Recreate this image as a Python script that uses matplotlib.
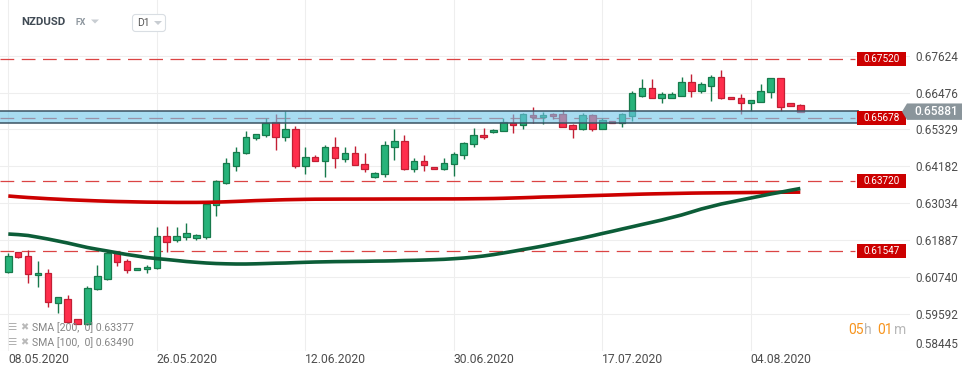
import matplotlib
matplotlib.use('Agg')
import matplotlib.pyplot as plt
import matplotlib.transforms as mtransforms
from matplotlib.patches import Rectangle, Polygon, FancyBboxPatch
import numpy as np
import pandas as pd

plt.rcParams['font.family'] = ['Roboto', 'DejaVu Sans']

# ---------------- data ----------------
symbol = 'NZDUSD'
start_date = '2020-05-08'
end_date = '2020-08-10'

opens = [
    0.60881, 0.61504, 0.61389, 0.60788, 0.60850, 0.59917, 0.60060, 0.59428, 0.59272, 0.60352,
    0.60673, 0.61473, 0.61224, 0.60944, 0.60984, 0.61006, 0.62011, 0.61887, 0.61971, 0.61949,
    0.61989, 0.62967, 0.63651, 0.64199, 0.64585, 0.65052, 0.65145, 0.65550, 0.65083, 0.65332,
    0.64199, 0.64461, 0.64336, 0.64772, 0.64417, 0.64585, 0.64243, 0.63838, 0.63932, 0.64791,
    0.64959, 0.64106, 0.64336, 0.64168, 0.64106, 0.64243, 0.64523, 0.64865, 0.65145, 0.65239,
    0.65270, 0.65519, 0.65457, 0.65777, 0.65706, 0.65808, 0.65808, 0.65457, 0.65332, 0.65777,
    0.65351, 0.65590, 0.65519, 0.65746, 0.66378, 0.66608, 0.66297, 0.66297, 0.66378, 0.66795,
    0.66534, 0.66689, 0.66951, 0.66328, 0.66297, 0.66141, 0.66191, 0.66484, 0.66919, 0.66141,
    0.66079]
highs = [
    0.61473, 0.61513, 0.61575, 0.61233, 0.60984, 0.60113, 0.60175, 0.59428, 0.60455, 0.61109,
    0.61554, 0.61504, 0.61286, 0.61006, 0.61099, 0.62301, 0.62322, 0.62301, 0.62425, 0.62073,
    0.63029, 0.63754, 0.64430, 0.64791, 0.65279, 0.65186, 0.65674, 0.65808, 0.65902, 0.65435,
    0.64772, 0.64523, 0.64843, 0.65083, 0.64772, 0.64812, 0.64585, 0.64012, 0.64968, 0.65332,
    0.65155, 0.64430, 0.64532, 0.64168, 0.64430, 0.64626, 0.64937, 0.65373, 0.65373, 0.65332,
    0.65674, 0.65808, 0.65839, 0.66017, 0.65871, 0.65824, 0.65933, 0.65482, 0.65830, 0.65808,
    0.65674, 0.65590, 0.65824, 0.66524, 0.66888, 0.66888, 0.66484, 0.66493, 0.66969, 0.67053,
    0.66795, 0.67022, 0.67178, 0.66328, 0.66431, 0.66244, 0.66742, 0.66929, 0.66944, 0.66151,
    0.66120]
lows = [
    0.60860, 0.61342, 0.60558, 0.60433, 0.59811, 0.59605, 0.59303, 0.59272, 0.59241, 0.60330,
    0.60642, 0.61087, 0.60850, 0.60944, 0.60869, 0.60975, 0.61523, 0.61824, 0.61887, 0.61887,
    0.61908, 0.62634, 0.63630, 0.64044, 0.64563, 0.64999, 0.65102, 0.64688, 0.64977, 0.64128,
    0.63950, 0.64330, 0.63838, 0.64137, 0.64324, 0.64206, 0.64012, 0.63832, 0.63857, 0.64377,
    0.64065, 0.64012, 0.64044, 0.64106, 0.64065, 0.63879, 0.64417, 0.64772, 0.65021, 0.65232,
    0.65264, 0.65226, 0.65332, 0.65538, 0.65488, 0.65662, 0.65394, 0.65052, 0.65310, 0.65289,
    0.65341, 0.65528, 0.65413, 0.65600, 0.66347, 0.66291, 0.66160, 0.66291, 0.66368, 0.66347,
    0.66453, 0.66222, 0.66260, 0.66266, 0.65799, 0.65902, 0.66182, 0.66316, 0.65911, 0.66042,
    0.65855]
closes = [
    0.61389, 0.61348, 0.60819, 0.60860, 0.59948, 0.60103, 0.59325, 0.59272, 0.60383, 0.60757,
    0.61473, 0.61193, 0.60944, 0.61006, 0.61037, 0.62011, 0.61834, 0.62011, 0.62095, 0.62033,
    0.62998, 0.63723, 0.64274, 0.64616, 0.65083, 0.65176, 0.65538, 0.65083, 0.65332, 0.64199,
    0.64461, 0.64336, 0.64772, 0.64430, 0.64585, 0.64212, 0.64106, 0.63963, 0.64834, 0.64959,
    0.64106, 0.64336, 0.64212, 0.64106, 0.64274, 0.64554, 0.64896, 0.65145, 0.65083, 0.65301,
    0.65550, 0.65457, 0.65799, 0.65706, 0.65768, 0.65737, 0.65413, 0.65332, 0.65768, 0.65351,
    0.65631, 0.65528, 0.65799, 0.66453, 0.66608, 0.66297, 0.66421, 0.66421, 0.66795, 0.66534,
    0.66733, 0.66951, 0.66316, 0.66266, 0.66141, 0.66235, 0.66515, 0.66919, 0.66017, 0.66048,
    0.65881]

sma200 = [
    0.63256, 0.63231, 0.63209, 0.63191, 0.63172, 0.63157, 0.63141, 0.63128, 0.63116, 0.63104,
    0.63094, 0.63085, 0.63079, 0.63072, 0.63066, 0.63063, 0.63060, 0.63057, 0.63057, 0.63057,
    0.63060, 0.63066, 0.63076, 0.63088, 0.63100, 0.63113, 0.63122, 0.63132, 0.63141, 0.63147,
    0.63153, 0.63157, 0.63158, 0.63159, 0.63160, 0.63160, 0.63161, 0.63161, 0.63162, 0.63163,
    0.63163, 0.63164, 0.63164, 0.63165, 0.63166, 0.63166, 0.63168, 0.63171, 0.63174, 0.63178,
    0.63185, 0.63194, 0.63203, 0.63213, 0.63225, 0.63231, 0.63241, 0.63250, 0.63259, 0.63269,
    0.63278, 0.63287, 0.63297, 0.63306, 0.63315, 0.63322, 0.63328, 0.63334, 0.63340, 0.63346,
    0.63350, 0.63353, 0.63356, 0.63359, 0.63362, 0.63365, 0.63368, 0.63371, 0.63374, 0.63375,
    0.63377]
sma100 = [
    0.62073, 0.62055, 0.62027, 0.61974, 0.61918, 0.61856, 0.61793, 0.61722, 0.61653, 0.61597,
    0.61544, 0.61488, 0.61435, 0.61389, 0.61342, 0.61308, 0.61280, 0.61249, 0.61217, 0.61193,
    0.61171, 0.61155, 0.61146, 0.61140, 0.61140, 0.61146, 0.61155, 0.61165, 0.61171, 0.61183,
    0.61193, 0.61202, 0.61208, 0.61214, 0.61217, 0.61221, 0.61224, 0.61230, 0.61233, 0.61239,
    0.61249, 0.61255, 0.61264, 0.61274, 0.61286, 0.61305, 0.61326, 0.61354, 0.61389, 0.61432,
    0.61482, 0.61535, 0.61591, 0.61644, 0.61700, 0.61762, 0.61824, 0.61887, 0.61949, 0.62017,
    0.62089, 0.62157, 0.62229, 0.62298, 0.62369, 0.62438, 0.62509, 0.62587, 0.62665, 0.62758,
    0.62852, 0.62929, 0.63007, 0.63069, 0.63132, 0.63194, 0.63256, 0.63318, 0.63374, 0.63434,
    0.63490]

levels = [0.67520, 0.65678, 0.63720, 0.61547]
band_low, band_high = 0.65520, 0.65890
current_price = 0.65881

y_ticks = [0.58445, 0.59592, 0.60740, 0.61887, 0.63034, 0.64182, 0.65329, 0.66476, 0.67624]
x_tick_labels = ['08.05.2020', '26.05.2020', '12.06.2020', '30.06.2020', '17.07.2020', '04.08.2020']
timer = [('05', 'o'), ('h', 'g'), ('01', 'o'), ('m', 'g')]

# ---------------- figure ----------------
W, H = 974, 375
fig = plt.figure(figsize=(W / 100, H / 100), dpi=100)
fig.patch.set_facecolor('white')

ax_bottom_px = 350.6
ax = fig.add_axes([0, (H - ax_bottom_px) / H, 910 / W, ax_bottom_px / H])
ax.set_facecolor('white')

all_days = pd.date_range(start_date, end_date, freq='D')
days = [d for d in all_days if d.weekday() != 5]
date_str = [d.strftime('%d.%m.%Y') for d in days]
idx = np.arange(len(days))

o = np.array(opens); c = np.array(closes); hi = np.array(highs); lo = np.array(lows)
up = c >= o
g_fill, g_edge = '#27b37a', '#177a4c'
r_fill, r_edge = '#ff2e4c', '#c21f34'
fills = [g_fill if u else r_fill for u in up]
edges = [g_edge if u else r_edge for u in up]

ax.vlines(idx, lo, hi, colors=edges, lw=1.0, zorder=3)
bottoms = np.minimum(o, c)
heights = np.maximum(np.abs(c - o), 0.00012)
ax.bar(idx, heights, bottom=bottoms, width=0.66, color=fills, edgecolor=edges,
       linewidth=0.9, zorder=3.2)

ax.plot(idx, sma200, color='#cc0000', lw=2.6, zorder=3.6, solid_capstyle='butt')
ax.plot(idx, sma100, color='#0c5d38', lw=2.6, zorder=3.7, solid_capstyle='butt')

ax.set_xlim(-0.838, 91.08)
ax.set_ylim(0.58445, 0.69356)

# grid / ticks
ax.set_yticks(y_ticks)
ax.set_yticklabels([f'{v:.5f}' for v in y_ticks])
ax.yaxis.tick_right()
ax.tick_params(axis='y', length=0, pad=3.8, labelsize=8.5, labelcolor='#4d4d4d')
ylabs = ax.get_yticklabels()
ylabs[0].set_va('bottom')

tick_pos = [date_str.index(t) for t in x_tick_labels]
ax.set_xticks(tick_pos)
ax.set_xticklabels(x_tick_labels, ha='left')
ax.tick_params(axis='x', length=0, pad=2.0, labelsize=8.7, labelcolor='#4d4d4d')

ax.grid(True, color='#eeeeee', lw=0.8)
ax.set_axisbelow(True)
for s in ax.spines.values():
    s.set_visible(False)

# overlay in pixel coordinates
ov = fig.add_axes([0, 0, 1, 1], zorder=5)
ov.set_xlim(0, W)
ov.set_ylim(H, 0)
ov.axis('off')
ov.patch.set_alpha(0)

trans = mtransforms.blended_transform_factory(ov.transData, ax.transData)

# dashed level lines
for lv in levels:
    ln, = ax.plot([0, 855], [lv, lv], transform=trans, color='#d83030', lw=0.9,
                  zorder=2.8, alpha=0.9)
    ln.set_dashes((11, 6))

# blue band (over candles)
band = Rectangle((0, band_low), 858, band_high - band_low, transform=trans,
                 facecolor='#6ec5e9', alpha=0.6, edgecolor='none', zorder=4)
ax.add_patch(band)
for yv in (band_low, band_high):
    ax.plot([0, 858], [yv, yv], transform=trans, color='#3b5262', lw=1.1, zorder=4.1)
ax.plot([858, 858], [band_low, band_high], transform=trans, color='#3b5262', lw=1.1, zorder=4.1)

# level labels
px = 0.00031124
hh = 7.2 * px
for lv in levels:
    ov.add_patch(Rectangle((857, lv - hh), 49, 2 * hh, transform=trans,
                           facecolor='#cc0000', edgecolor='none', zorder=6))
    ov.text(881.5, lv, f'{lv:.5f}', transform=trans, color='white', fontsize=7.2,
            ha='center', va='center', zorder=7)

# current price tag
th = 8.2 * px
tag = Polygon([(902, current_price), (907, current_price + th), (962, current_price + th),
               (962, current_price - th), (907, current_price - th)], closed=True,
              transform=trans, facecolor='#8a959b', edgecolor='none', zorder=6)
ov.add_patch(tag)
ov.text(936, current_price, f'{current_price:.5f}', transform=trans, color='white',
        fontsize=8.6, fontweight='medium', ha='center', va='center', zorder=7)

# header
ov.text(21, 22, symbol, fontsize=8.2, fontweight='bold', color='#414b55', va='center', ha='left')
ov.text(75, 22.5, 'FX', fontsize=6.3, fontweight='bold', color='#8c959d', va='center', ha='left')
ov.add_patch(Polygon([(91, 19.5), (99, 19.5), (95, 23.5)], closed=True, facecolor='#c8cdd2',
                     edgecolor='none'))
ov.add_patch(FancyBboxPatch((132.5, 14.5), 33, 17, boxstyle='round,pad=0,rounding_size=3',
                            facecolor='white', edgecolor='#d9dee3', lw=0.8))
ov.text(137, 23, 'D1', fontsize=7.5, color='#555555', va='center', ha='left')
ov.add_patch(Polygon([(154, 21), (162, 21), (158, 25)], closed=True, facecolor='#c8cdd2',
                     edgecolor='none'))

# indicator legend
legend_rows = [(327.3, f'SMA [200,  0] {sma200[-1]:.5f}'),
               (342.3, f'SMA [100,  0] {sma100[-1]:.5f}')]
for yy, txt in legend_rows:
    ov.text(7, yy, '\u2630', fontsize=7.5, color='#b0b0b0', va='center', ha='left',
            family='DejaVu Sans')
    ov.text(20, yy, '\u2716', fontsize=7, color='#bababa', va='center', ha='left',
            family='DejaVu Sans')
    ov.text(32, yy, txt, fontsize=7.6, color='#858585', va='center', ha='left')

# timer
tx = [848, 864, 877, 894]
for (t, col), x0 in zip(timer, tx):
    ov.text(x0, 330, t, fontsize=10, color='#f7941d' if col == 'o' else '#b8b8b8',
            va='center', ha='left')

fig.savefig('out.png', dpi=100, facecolor='white')
